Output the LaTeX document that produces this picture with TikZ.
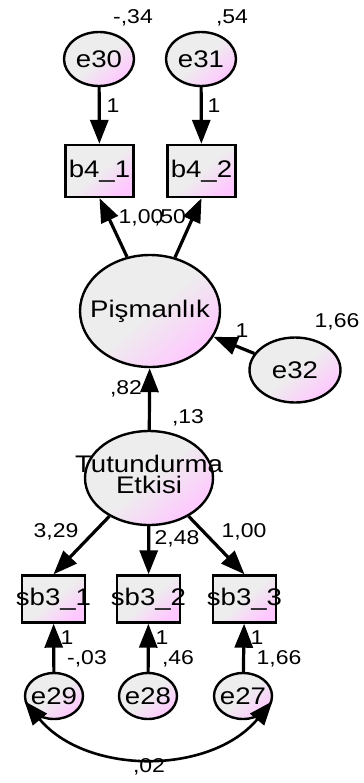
\documentclass[tikz,border=0pt]{standalone}
\usepackage{fontspec}
\setmainfont[FakeStretch=1.15]{Liberation Sans}
\usetikzlibrary{arrows.meta}
\usetikzlibrary{shapes.geometric}

\newcommand{\ctr}[1]{\makebox[0pt]{#1}}

\tikzset{
  lat/.style={ellipse, draw, line width=1.2pt, inner sep=0,
    top color=black!7, bottom color=magenta!22, middle color=black!7,
    shading angle=40, font=\fontsize{12}{12.5}\selectfont},
  obs/.style={rectangle, draw, line width=1.2pt, inner sep=0,
    minimum width=34pt, minimum height=26pt,
    top color=black!7, bottom color=magenta!22, middle color=black!7,
    shading angle=40, font=\fontsize{12}{12.5}\selectfont},
  lbl/.style={inner sep=0, font=\fontsize{10}{12}\selectfont},
  reg/.style={->, line width=1.6pt, >={Triangle[length=12pt,width=9pt]}}
}

\begin{document}
\begin{tikzpicture}[x=0.5pt, y=-0.5pt]
\useasboundingbox (0,0) rectangle (364,783);
% top indicators
\node[lat, minimum width=35pt, minimum height=27pt] (e30) at (99,59) {\ctr{e30}};
\node[lat, minimum width=35pt, minimum height=27pt] (e31) at (201,59) {\ctr{e31}};
\node[obs] (b41) at (99.5,171) {\ctr{b4\_1}};
\node[obs] (b42) at (201.5,171) {\ctr{b4\_2}};
\draw[reg] (e30) -- (b41);
\draw[reg] (e31) -- (b42);
% latent variables
\node[lat, minimum width=70pt, minimum height=56pt] (pis) at (150,311) {\ctr{Pişmanlık}};
\node[lat, minimum width=45.5pt, minimum height=32.5pt] (e32) at (295,370) {\ctr{e32}};
\node[lat, minimum width=64pt, minimum height=47pt] (tut) at (149,478)
  {\ctr{\begin{tabular}{@{}c@{}}Tutundurma\\[-2pt]Etkisi\end{tabular}}};
\draw[reg] (pis.113) -- (b41.south);
\draw[reg] (pis.65) -- (b42.south);
\draw[reg] (e32) -- (pis);
\draw[reg] (tut) -- (pis);
% bottom indicators
\foreach \i/\x in {1/53.5, 2/148.5, 3/244.5}
  \node[obs, minimum width=31.5pt, minimum height=23.5pt] (sb3\i) at (\x,599) {\ctr{sb3\_\i}};
\foreach \n/\x in {29/54, 28/148, 27/243}
  \node[lat, minimum width=29pt, minimum height=23pt] (e\n) at (\x,696) {\ctr{e\n}};
\foreach \i/\n in {1/29, 2/28, 3/27}
  \draw[reg] (e\n) -- (sb3\i);
\draw[reg] (tut.224) -- (sb31.north);
\draw[reg] (tut) -- (sb32);
\draw[reg] (tut.316) -- (sb33.north);
\draw[reg, <->, line width=1.3pt] (e29.190) to[out=-50, in=-130] (e27.350);
% estimates
\node[lbl] (var30) at (133,18) {-,34};
\node[lbl] (var31) at (232,18) {,54};
\node[lbl] (fix30) at (113,106) {1};
\node[lbl] (fix31) at (214,106) {1};
\node[lbl] (load41) at (141,218) {1,00};
\node[lbl] (load42) at (170,218) {,50};
\node[lbl] (fix32) at (242,331) {1};
\node[lbl] (var32) at (337,322) {1,66};
\node[lbl] (loadpis) at (126,389) {,82};
\node[lbl] (vartut) at (188,418) {,13};
\node[lbl] (loads1) at (56,532) {3,29};
\node[lbl] (loads2) at (177,539) {2,48};
\node[lbl] (loads3) at (244,532) {1,00};
\node[lbl] (fix29) at (67,638) {1};
\node[lbl] (fix28) at (162,638) {1};
\node[lbl] (fix27) at (257,638) {1};
\node[lbl] (var29) at (87,659) {-,03};
\node[lbl] (var28) at (178,659) {,46};
\node[lbl] (var27) at (279,659) {1,66};
\node[lbl] (cov) at (149,767) {,02};
\end{tikzpicture}
\end{document}
